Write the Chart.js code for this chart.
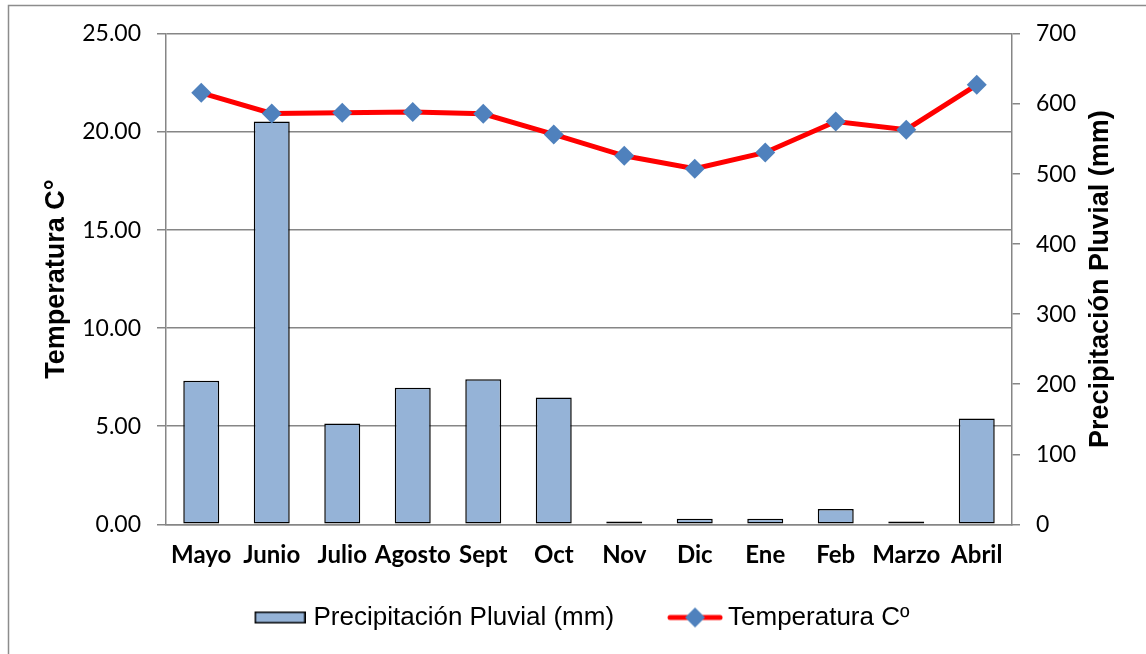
<!DOCTYPE html>
<html>
<head>
<meta charset="utf-8">
<script src="https://cdn.jsdelivr.net/npm/chart.js@4/dist/chart.umd.min.js"></script>
<style>
  html, body { margin: 0; padding: 0; background: #fff; }
  #wrap { width: 1146px; height: 654px; }
</style>
</head>
<body>
<div id="wrap"><canvas id="myChart" width="1146" height="654"></canvas></div>
<script>
var meses = ["Mayo", "Junio", "Julio", "Agosto", "Sept", "Oct", "Nov", "Dic", "Ene", "Feb", "Marzo", "Abril"];
var precipitacion = [205, 575, 144, 195, 207, 181, 4, 8, 8, 22, 4, 151];
var temperatura = [22.0, 20.95, 20.98, 21.02, 20.93, 19.88, 18.79, 18.13, 18.96, 20.54, 20.12, 22.41];
var tempTicks = [0, 5, 10, 15, 20, 25];
var precTicks = [0, 100, 200, 300, 400, 500, 600, 700];

var gridGray = "#868686";
var armFont = "'Liberation Sans', Arial, sans-serif";
var calFont = "Lato, 'Open Sans', sans-serif";

// legend icons (drawn centred by chart.js, so the visible part sits on the right half)
function barIcon() {
  var c = document.createElement("canvas");
  c.width = 101; c.height = 14;
  var g = c.getContext("2d");
  g.fillStyle = "#95b3d7";
  g.fillRect(50, 1, 51, 12);
  g.strokeStyle = "#000";
  g.lineWidth = 1.5;
  g.strokeRect(50.75, 1.75, 49.5, 10.5);
  return c;
}
function lineIcon() {
  var c = document.createElement("canvas");
  c.width = 107; c.height = 22;
  var g = c.getContext("2d");
  g.strokeStyle = "#ff0000";
  g.lineWidth = 5;
  g.lineCap = "round";
  g.beginPath();
  g.moveTo(54, 11); g.lineTo(104, 11);
  g.stroke();
  g.fillStyle = "#4f81bd";
  g.beginPath();
  g.moveTo(69, 11); g.lineTo(79, 1); g.lineTo(89, 11); g.lineTo(79, 21);
  g.closePath();
  g.fill();
  return c;
}
var iconBar = barIcon();
var iconLine = lineIcon();

var fondo = {
  id: "fondo",
  beforeDraw: function (chart) {
    var ctx = chart.ctx;
    ctx.save();
    ctx.fillStyle = "#fff";
    ctx.fillRect(0, 0, chart.width, chart.height);
    ctx.strokeStyle = "#8c8c8c";
    ctx.lineWidth = 1.5;
    ctx.strokeRect(8.5, 5.5, 1200, 700);
    ctx.restore();
  },
  afterDraw: function (chart) {
    // right axis title reads bottom-to-top as in the original
    var ctx = chart.ctx;
    var a = chart.chartArea;
    ctx.save();
    ctx.translate(1101, (a.top + a.bottom) / 2);
    ctx.rotate(-Math.PI / 2);
    ctx.font = "bold 27px " + armFont;
    ctx.fillStyle = "#000";
    ctx.textAlign = "center";
    ctx.textBaseline = "middle";
    ctx.fillText("Precipitación Pluvial (mm)", 0, 0);
    ctx.restore();
  },
};

new Chart(document.getElementById("myChart"), {
  data: {
    labels: meses,
    datasets: [
      {
        type: "bar",
        label: "Precipitación Pluvial (mm)",
        data: precipitacion,
        yAxisID: "y2",
        backgroundColor: "#95b3d7",
        borderColor: "#000",
        borderWidth: 1.5,
        borderSkipped: false,
        categoryPercentage: 1,
        barPercentage: 0.51,
        order: 2,
      },
      {
        type: "line",
        label: "Temperatura Cº",
        data: temperatura,
        yAxisID: "y",
        borderColor: "#ff0000",
        borderWidth: 5,
        tension: 0,
        pointStyle: "rectRot",
        pointRadius: 10,
        pointHoverRadius: 10,
        pointBackgroundColor: "#4f81bd",
        pointBorderColor: "#4f81bd",
        pointBorderWidth: 0,
        order: 1,
      },
    ],
  },
  options: {
    responsive: false,
    animation: false,
    layout: { padding: { top: 34, bottom: 13.5, left: 0, right: 27 } },
    scales: {
      x: {
        grid: { display: false, drawTicks: false },
        border: { color: gridGray, width: 1.5 },
        ticks: {
          color: "#000",
          padding: 17,
          maxRotation: 0,
          autoSkip: false,
          font: { family: calFont, size: 24, weight: "bold" },
        },
        afterFit: function (scale) {
          scale.height = 70.2;
        },
      },
      y: {
        position: "left",
        min: 0,
        max: 25,
        afterBuildTicks: function (scale) {
          scale.ticks = tempTicks.map(function (v) { return { value: v }; });
        },
        grid: { color: gridGray, lineWidth: 1.5, tickLength: 9 },
        border: { color: gridGray, width: 1.5 },
        ticks: {
          color: "#000",
          padding: 16,
          font: { family: calFont, size: 23 },
          callback: function (value) {
            return value.toFixed(2);
          },
        },
        title: {
          display: true,
          text: "Temperatura C°",
          color: "#000",
          padding: { top: 40, bottom: 0 },
          font: { family: armFont, size: 27, weight: "bold" },
        },
        afterFit: function (scale) {
          scale.width = 166;
        },
      },
      y2: {
        position: "right",
        min: 0,
        max: 700,
        afterBuildTicks: function (scale) {
          scale.ticks = precTicks.map(function (v) { return { value: v }; });
        },
        grid: { drawOnChartArea: false, color: gridGray, lineWidth: 1.5, tickLength: 8 },
        border: { color: gridGray, width: 1.5 },
        ticks: {
          color: "#000",
          padding: 16,
          font: { family: calFont, size: 23 },
        },
        afterFit: function (scale) {
          scale.width = 107;
        },
      },
    },
    plugins: {
      tooltip: { enabled: false },
      legend: {
        position: "bottom",
        labels: {
          usePointStyle: true,
          pointStyleWidth: 91,
          padding: 10,
          color: "#000",
          font: { family: armFont, size: 26 },
          generateLabels: function (chart) {
            var ds = chart.data.datasets;
            return [
              { text: ds[0].label, pointStyle: iconBar, datasetIndex: 0, fillStyle: "#95b3d7", strokeStyle: "#000", lineWidth: 0, fontColor: "#000" },
              { text: ds[1].label, pointStyle: iconLine, datasetIndex: 1, fillStyle: "#4f81bd", strokeStyle: "#ff0000", lineWidth: 0, fontColor: "#000" },
            ];
          },
        },
      },
    },
  },
  plugins: [fondo],
});
</script>
</body>
</html>
